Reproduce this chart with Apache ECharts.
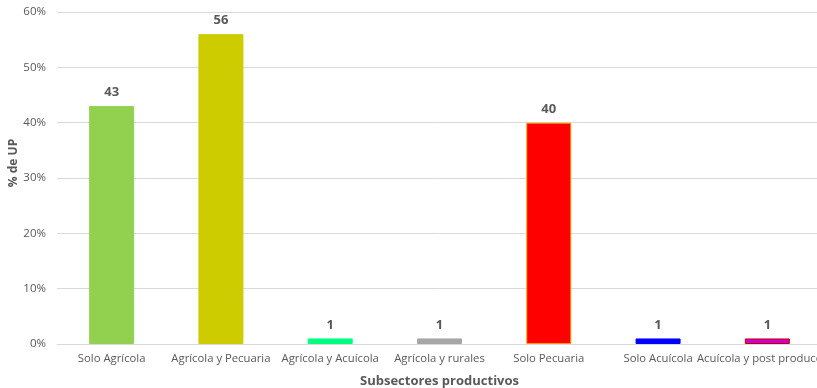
<!DOCTYPE html>
<html>
<head>
<meta charset="utf-8">
<script src="https://cdn.jsdelivr.net/npm/echarts@6/dist/echarts.min.js"></script>
<style>
  html, body { margin: 0; padding: 0; background: #fff; }
  #chart { width: 817px; height: 388px; }
</style>
</head>
<body>
<div id="chart"></div>
<script>
// Productive subsectors and the number of production units (UP) in each
const categories = ['Solo Agrícola', 'Agrícola y Pecuaria', 'Agrícola y Acuícola', 'Agrícola y rurales', 'Solo Pecuaria', 'Solo Acuícola', 'Acuícola y post producción'];
const unitCounts = [43, 56, 1, 1, 40, 1, 1];
const barColors = ['#92D050', '#CCCC00', '#00FF80', '#A6A6A6', '#FF0000', '#0000FF', '#CC00CC'];
const barBorders = ['#92D050', '#CCCC00', '#00FF80', '#A6A6A6', '#F0A000', '#0000FF', '#C00000'];
const yTicks = { min: 0, max: 60, interval: 10 };

const font = '"Open Sans", Lato, sans-serif';
const chart = echarts.init(document.getElementById('chart'), null, { renderer: 'canvas' });

chart.setOption({
  animation: false,
  backgroundColor: '#ffffff',
  // plot area runs slightly past the right edge of the canvas
  grid: { left: 57, width: 765, top: 12, bottom: 44, containLabel: false, outerBoundsMode: 'none' },
  graphic: [{
    type: 'text',
    x: 8,
    y: 163,
    rotation: Math.PI / 2,
    style: {
      text: '% de UP',
      font: 'bold 12px ' + font,
      fill: '#595959',
      align: 'center',
      verticalAlign: 'top'
    }
  }],
  xAxis: {
    type: 'category',
    data: categories,
    name: 'Subsectores productivos',
    nameLocation: 'middle',
    nameGap: 31,
    nameTextStyle: { fontFamily: font, fontSize: 13, fontWeight: 'bold', color: '#595959' },
    axisLine: { lineStyle: { color: '#D9D9D9', width: 1 } },
    axisTick: { show: false },
    axisLabel: { fontFamily: font, fontSize: 11.3, color: '#595959', margin: 9, interval: 0 }
  },
  yAxis: {
    type: 'value',
    min: yTicks.min,
    max: yTicks.max,
    interval: yTicks.interval,
    axisLine: { show: false },
    axisTick: { show: false },
    axisLabel: { fontFamily: font, fontSize: 11.5, color: '#595959', margin: 11, formatter: '{value}%' },
    splitLine: { lineStyle: { color: '#D9D9D9', width: 1 } }
  },
  series: [{
    type: 'bar',
    barWidth: 45,
    data: unitCounts.map((v, i) => ({
      value: v,
      itemStyle: { color: barColors[i], borderColor: barBorders[i], borderWidth: 1 }
    })),
    label: {
      show: true,
      position: 'top',
      distance: 7,
      fontFamily: font,
      fontSize: 13,
      fontWeight: 'bold',
      color: '#595959'
    }
  }]
});
</script>
</body>
</html>
